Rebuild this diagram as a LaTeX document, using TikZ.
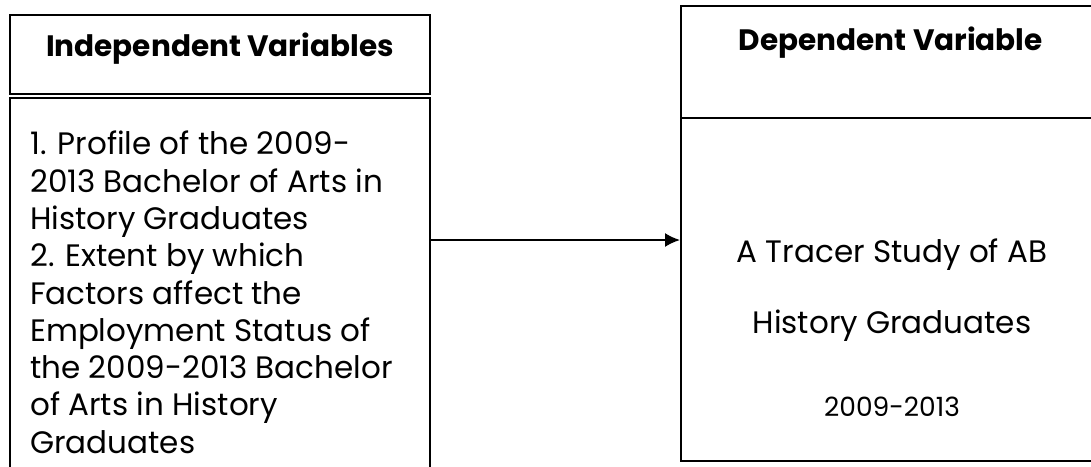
\documentclass[tikz,border=0pt]{standalone}
\usepackage{fontspec}
\setmainfont{Poppins}
\usetikzlibrary{positioning,arrows.meta}

\tikzset{
	varbox/.style={draw,line width=1.8pt,anchor=north west,inner sep=0pt},
	headtext/.style={font=\fontsize{29.5}{34}\selectfont\bfseries},
	bodytext/.style={font=\fontsize{31}{37.3}\selectfont,align=left,inner sep=0pt,anchor=north west},
	titletext/.style={font=\fontsize{31}{36}\selectfont,inner sep=0pt}
}

\begin{document}
\begin{tikzpicture}[x=1pt,y=-1pt]
	\clip (0,0) rectangle (1091,466);
	\fill[white] (0,0) rectangle (1091,466);

	% left side
	\node[varbox,minimum width=420pt,minimum height=79pt] (indhead) at (9,14) {};
	\node[headtext,yshift=6pt] at (indhead.center) {Independent Variables};
	\node[varbox,minimum width=420pt,minimum height=400pt] (indbody) at (9,97) {};
	\node[bodytext] (indlist) at (30,131) {1. Profile of the 2009-\\2013 Bachelor of Arts in\\History Graduates\\2. Extent by which\\Factors affect the\\Employment Status of\\the 2009-2013 Bachelor\\of Arts in History\\Graduates};

	% right side
	\node[varbox,minimum width=420pt,minimum height=112pt] (dephead) at (680,5) {};
	\node[headtext,yshift=-38pt] at (dephead.north) {Dependent Variable};
	\node[varbox,minimum width=420pt,minimum height=343pt] (depbody) at (680,117) {};
	\node[titletext] (tracer) at (892,255) {A Tracer Study of AB};
	\node[titletext,below=71pt of tracer.center,anchor=center] (history) {History Graduates};
	\node[titletext,font=\fontsize{26.5}{30}\selectfont,below=81pt of history.center,anchor=center] (years) {2009-2013};

	% arrow
	\coordinate (midline) at (550,240);
	\draw[line width=1.8pt,-{Latex[length=15pt,width=14pt]}] (indbody.east |- midline) -- (depbody.west |- midline);
\end{tikzpicture}
\end{document}
